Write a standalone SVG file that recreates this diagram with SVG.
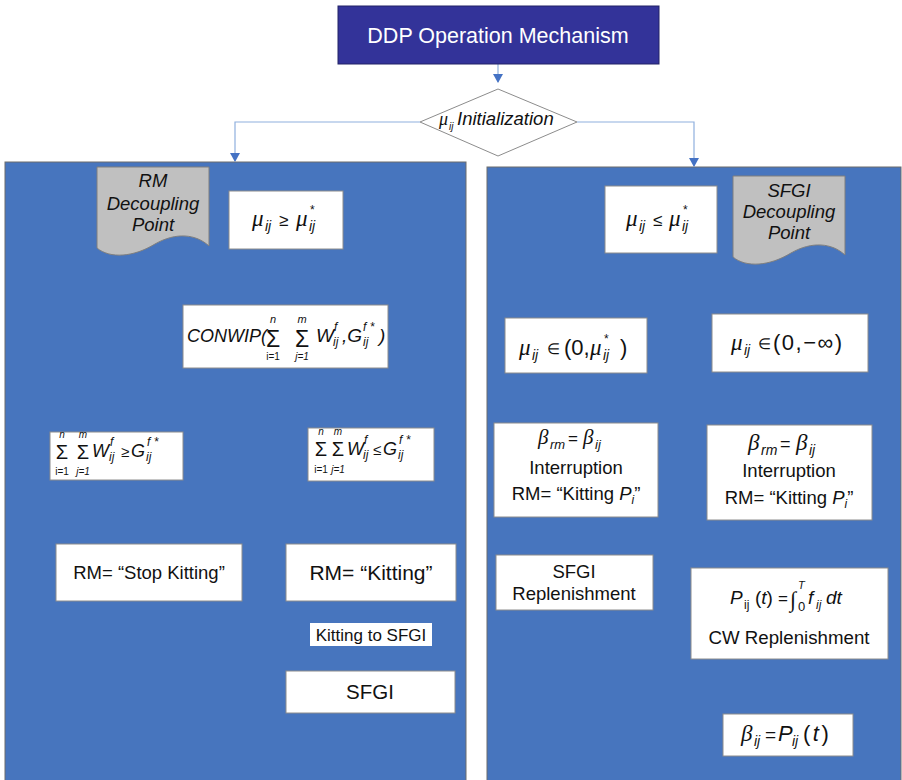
<svg xmlns="http://www.w3.org/2000/svg" width="902" height="780" viewBox="0 0 902 780">
<style>
.panel{fill:#4775be;stroke:#6d6d6d;stroke-width:1}
.box{fill:#fff;stroke:#8c8c8c;stroke-width:1}
.doc{fill:#c0c0c0;stroke:#7f7f7f;stroke-width:1}
.t{font-family:"Liberation Sans",Arial,sans-serif;fill:#111}
.it{font-family:"Liberation Sans",Arial,sans-serif;font-style:italic;fill:#111}
.g{font-family:"Liberation Serif","Times New Roman",serif;font-style:italic;fill:#111}
.c{text-anchor:middle}
.conn{fill:none;stroke:#8fb0de;stroke-width:1.2}
</style>
<defs>
<marker id="ah" markerWidth="10" markerHeight="10" refX="8" refY="5" orient="auto" markerUnits="userSpaceOnUse">
<path d="M0,0 L9,5 L0,10 Z" fill="#4472c4"/>
</marker>
</defs>
<rect width="902" height="780" fill="#fff"/>
<g id="panel-left"><rect class="panel" x="5" y="162" width="461" height="630"/></g>
<g id="panel-right"><rect class="panel" x="487" y="167" width="414" height="625"/></g>
<g id="connectors">
<line class="conn" x1="498" y1="64" x2="498" y2="82" marker-end="url(#ah)"/>
<polyline class="conn" points="420,122 235,122 235,161" marker-end="url(#ah)"/>
<polyline class="conn" points="577,122 694,122 694,166" marker-end="url(#ah)"/>
</g>
<g id="title">
<rect x="338" y="6" width="321" height="58" fill="#333399" stroke="#222266" stroke-width="1"/>
<text x="498" y="43" font-family="Liberation Sans,Arial,sans-serif" font-size="21.5" fill="#fff" text-anchor="middle">DDP Operation Mechanism</text>
</g>
<g id="init">
<polygon points="498,89 577,122 498,156 420,122" fill="#fff" stroke="#8c8c8c" stroke-width="1"/>
<text x="439" y="125" class="g" font-size="18">μ</text>
<text x="449" y="130" class="it" font-size="10">ij</text>
<text x="457" y="125" class="it" font-size="18.5">Initialization</text>
</g>
<g id="rm-decoupling">
<path class="doc" d="M97,167 H209 V246 C196,234 176,232 155,244 C134,257 110,259 97,248 Z"/>
<text x="153" y="187" class="it c" font-size="18.5">RM</text>
<text x="153" y="210" class="it c" font-size="18.5">Decoupling</text>
<text x="153" y="231" class="it c" font-size="18.5">Point</text>
</g>
<g id="mu-ge">
<rect class="box" x="229" y="191" width="114" height="58"/>
<text x="252" y="226" class="g" font-size="23">μ</text>
<text x="265" y="231" class="it" font-size="14">ij</text>
<text x="279" y="226" class="t" font-size="17">≥</text>
<text x="296" y="226" class="g" font-size="23">μ</text>
<text x="310" y="214" class="t" font-size="12">*</text>
<text x="309" y="231" class="it" font-size="14">ij</text>
</g>
<g id="conwip">
<rect class="box" x="183" y="305" width="205" height="63"/>
<text x="187" y="342" class="it" font-size="18">CONWIP(</text>
<text x="273" y="347" class="t c" font-size="23">Σ</text>
<text x="273" y="323" class="it c" font-size="11">n</text>
<text x="273" y="360" class="t c" font-size="10">i=1</text>
<text x="302" y="347" class="t c" font-size="23">Σ</text>
<text x="302" y="323" class="it c" font-size="11">m</text>
<text x="302" y="360" class="it c" font-size="10">j=1</text>
<text x="316" y="342" class="it" font-size="19">W</text>
<text x="334" y="331" class="it" font-size="12">f</text>
<text x="333" y="346" class="it" font-size="12">ij</text>
<text x="342" y="342" class="it" font-size="19">,G</text>
<text x="363" y="331" class="it" font-size="12">f *</text>
<text x="363" y="346" class="it" font-size="12">ij</text>
<text x="379" y="342" class="it" font-size="19">)</text>
</g>
<g id="sum-ge">
<rect class="box" x="50" y="432" width="133" height="48"/>
<text x="62" y="459" class="t c" font-size="20">Σ</text>
<text x="62" y="438" class="it c" font-size="10">n</text>
<text x="62" y="475" class="t c" font-size="10">i=1</text>
<text x="83" y="459" class="t c" font-size="20">Σ</text>
<text x="83" y="438" class="it c" font-size="10">m</text>
<text x="83" y="475" class="it c" font-size="10">j=1</text>
<text x="92" y="457" class="it" font-size="18">W</text>
<text x="110" y="446" class="it" font-size="12">f</text>
<text x="109" y="461" class="it" font-size="12">ij</text>
<text x="121" y="457" class="t" font-size="15">≥</text>
<text x="131" y="457" class="it" font-size="18">G</text>
<text x="147" y="446" class="it" font-size="12">f *</text>
<text x="146" y="461" class="it" font-size="12">ij</text>
</g>
<g id="sum-le">
<rect class="box" x="308" y="428" width="126" height="53"/>
<text x="321" y="456" class="t c" font-size="20">Σ</text>
<text x="321" y="435" class="it c" font-size="10">n</text>
<text x="321" y="473" class="t c" font-size="10">i=1</text>
<text x="338" y="456" class="t c" font-size="20">Σ</text>
<text x="338" y="435" class="it c" font-size="10">m</text>
<text x="338" y="473" class="it c" font-size="10">j=1</text>
<text x="347" y="455" class="it" font-size="18">W</text>
<text x="364" y="444" class="it" font-size="12">f</text>
<text x="363" y="459" class="it" font-size="12">ij</text>
<text x="373" y="455" class="t" font-size="15">≤</text>
<text x="383" y="455" class="it" font-size="18">G</text>
<text x="399" y="444" class="it" font-size="12">f *</text>
<text x="398" y="459" class="it" font-size="12">ij</text>
</g>
<g id="stop-kitting">
<rect class="box" x="56" y="544" width="186" height="57"/>
<text x="149" y="579" class="t c" font-size="18.5">RM= “Stop Kitting”</text>
</g>
<g id="kitting">
<rect class="box" x="286" y="544" width="170" height="57"/>
<text x="371" y="580" class="t c" font-size="21">RM= “Kitting”</text>
</g>
<g id="kitting-to-sfgi">
<rect x="310" y="623" width="122" height="23" fill="#fff"/>
<text x="371" y="641" class="t c" font-size="17">Kitting to SFGI</text>
</g>
<g id="sfgi">
<rect class="box" x="286" y="671" width="169" height="42"/>
<text x="370" y="699" class="t c" font-size="20.5">SFGI</text>
</g>
<g id="mu-le">
<rect class="box" x="605" y="186" width="112" height="67"/>
<text x="626" y="226" class="g" font-size="23">μ</text>
<text x="639" y="231" class="it" font-size="14">ij</text>
<text x="653" y="226" class="t" font-size="17">≤</text>
<text x="669" y="226" class="g" font-size="23">μ</text>
<text x="683" y="214" class="t" font-size="12">*</text>
<text x="682" y="231" class="it" font-size="14">ij</text>
</g>
<g id="sfgi-decoupling">
<path class="doc" d="M733,176 H845 V255 C832,243 812,241 791,253 C770,266 746,268 733,257 Z"/>
<text x="789" y="197" class="it c" font-size="18.5">SFGI</text>
<text x="789" y="218" class="it c" font-size="18.5">Decoupling</text>
<text x="789" y="239" class="it c" font-size="18.5">Point</text>
</g>
<g id="mu-in-star">
<rect class="box" x="505" y="318" width="142" height="55"/>
<text x="519" y="355" class="g" font-size="23">μ</text>
<text x="532" y="360" class="it" font-size="14">ij</text>
<text x="547" y="354" class="t" font-size="15">∈</text>
<text x="564" y="355" class="t" font-size="22">(0,</text>
<text x="590" y="355" class="g" font-size="23">μ</text>
<text x="604" y="343" class="t" font-size="12">*</text>
<text x="603" y="360" class="it" font-size="14">ij</text>
<text x="620" y="355" class="t" font-size="22">)</text>
</g>
<g id="mu-in-inf">
<rect class="box" x="712" y="314" width="156" height="58"/>
<text x="731" y="350" class="g" font-size="23">μ</text>
<text x="744" y="355" class="it" font-size="14">ij</text>
<text x="758" y="349" class="t" font-size="15">∈</text>
<text x="773" y="350" class="t" font-size="22" letter-spacing="1.5">(0,−∞)</text>
</g>
<g id="beta-left">
<rect class="box" x="494" y="423" width="164" height="94"/>
<text x="538" y="444" class="g" font-size="21">β</text>
<text x="550" y="449" class="it" font-size="13">rm</text>
<text x="568" y="444" class="t" font-size="17">=</text>
<text x="583" y="444" class="g" font-size="21">β</text>
<text x="595" y="449" class="it" font-size="13">ij</text>
<text x="576" y="474" class="t c" font-size="18.5">Interruption</text>
<text x="576" y="500" class="t c" font-size="18.5">RM= “Kitting <tspan class="it">P</tspan><tspan class="it" font-size="12" dy="4">i</tspan><tspan dy="-4">”</tspan></text>
</g>
<g id="beta-right">
<rect class="box" x="707" y="425" width="165" height="95"/>
<text x="748" y="450" class="g" font-size="23">β</text>
<text x="761" y="455" class="it" font-size="14">rm</text>
<text x="780" y="450" class="t" font-size="18">=</text>
<text x="796" y="450" class="g" font-size="23">β</text>
<text x="809" y="455" class="it" font-size="14">ij</text>
<text x="789" y="477" class="t c" font-size="18.5">Interruption</text>
<text x="789" y="504" class="t c" font-size="18.5">RM= “Kitting <tspan class="it">P</tspan><tspan class="it" font-size="12" dy="4">i</tspan><tspan dy="-4">”</tspan></text>
</g>
<g id="sfgi-replenishment">
<rect class="box" x="496" y="555" width="157" height="55"/>
<text x="574" y="578" class="t c" font-size="18.5">SFGI</text>
<text x="574" y="600" class="t c" font-size="18.5">Replenishment</text>
</g>
<g id="cw-replenishment">
<rect class="box" x="691" y="568" width="197" height="91"/>
<text x="730" y="604" class="it" font-size="19">P</text>
<text x="744" y="609" class="t" font-size="12">ij</text>
<text x="755" y="604" class="t" font-size="19">(<tspan class="it">t</tspan>)</text>
<text x="778" y="604" class="t" font-size="17">=</text>
<text x="790" y="607" class="g" font-size="22">∫</text>
<text x="798" y="589" class="it" font-size="11">T</text>
<text x="798" y="611" class="t" font-size="13">0</text>
<text x="808" y="604" class="it" font-size="19">f</text>
<text x="816" y="609" class="it" font-size="12">ij</text>
<text x="826" y="604" class="it" font-size="19">dt</text>
<text x="789" y="644" class="t c" font-size="18.7">CW Replenishment</text>
</g>
<g id="beta-p">
<rect class="box" x="723" y="714" width="130" height="42"/>
<text x="741" y="741" class="g" font-size="23">β</text>
<text x="754" y="746" class="it" font-size="14">ij</text>
<text x="765" y="741" class="t" font-size="19">=</text>
<text x="778" y="741" class="it" font-size="22">P</text>
<text x="792" y="746" class="it" font-size="14">ij</text>
<text x="803" y="741" class="t" font-size="22" letter-spacing="2.5">(<tspan class="it">t</tspan>)</text>
</g>
</svg>
